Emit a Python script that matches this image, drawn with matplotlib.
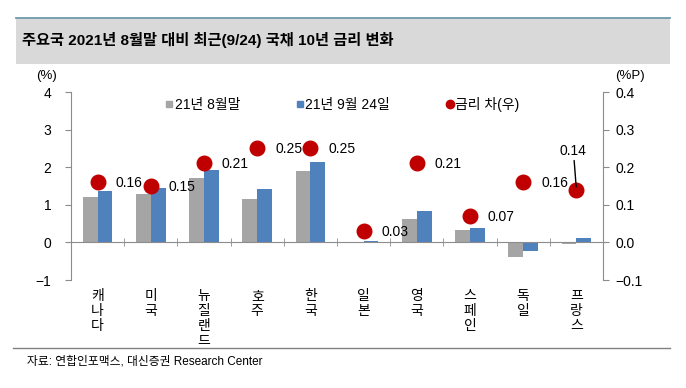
import matplotlib

matplotlib.use("Agg")
import matplotlib.pyplot as plt
from matplotlib.lines import Line2D
from matplotlib.patches import Rectangle
import numpy as np

plt.rcParams["font.family"] = ["Liberation Sans", "Noto Sans CJK KR", "DejaVu Sans"]

# data
countries = ["캐나다", "미국", "뉴질랜드", "호주", "한국", "일본", "영국", "스페인", "독일", "프랑스"]
aug_end = [1.21, 1.30, 1.71, 1.16, 1.90, 0.02, 0.62, 0.32, -0.38, -0.03]
sep_24 = [1.37, 1.45, 1.92, 1.41, 2.15, 0.05, 0.83, 0.39, -0.22, 0.11]
diff = [0.16, 0.15, 0.21, 0.25, 0.25, 0.03, 0.21, 0.07, 0.16, 0.14]
left_ticks = [-1, 0, 1, 2, 3, 4]
right_ticks = [-0.1, 0.0, 0.1, 0.2, 0.3, 0.4]

GRAY = "#A5A5A5"
BLUE = "#4F81BD"
RED = "#C00000"
AXC = "#8C8C8C"

W, H = 686, 388
fig = plt.figure(figsize=(W / 100, H / 100), dpi=100)


def fx(px):
    return px / W


def fy(py):
    return 1 - py / H


# title band
fig.patches.append(Rectangle((fx(16), fy(64)), fx(654), 46 / H, transform=fig.transFigure,
                             facecolor="#D9D9D9", edgecolor="none", zorder=0))
fig.add_artist(Line2D([fx(16), fx(670)], [fy(18), fy(18)], color="#6F9AAA", lw=1.3))
fig.text(fx(22), fy(40), "주요국 2021년 8월말 대비 최근(9/24) 국채 10년 금리 변화",
         fontsize=11, fontweight="bold", va="center", ha="left")

# footer
fig.add_artist(Line2D([fx(13), fx(670)], [fy(348), fy(348)], color="#808080", lw=1.0))
fig.text(fx(27), fy(362), "자료: 연합인포맥스, 대신증권 Research Center", fontsize=8.5,
         va="center", ha="left")

ax = fig.add_axes([fx(71), fy(280), fx(603 - 71), (280 - 92) / H])
x = np.arange(len(countries))
bw = 0.28
ax.bar(x - bw / 2, aug_end, bw, color=GRAY, zorder=2)
ax.bar(x + bw / 2, sep_24, bw, color=BLUE, zorder=2)
ax.set_xlim(-0.5, len(countries) - 0.5)
ax.set_ylim(-1, 4)
ax.set_yticks(left_ticks)
ax.set_yticklabels([f"{t:d}".replace("-", "\u2212") for t in left_ticks])

ax.spines["top"].set_visible(False)
ax.spines["right"].set_visible(False)
ax.spines["bottom"].set_position(("data", 0))
for s in ("left", "bottom"):
    ax.spines[s].set_color(AXC)
ax.set_xticks([])
ax.set_xticks(np.arange(len(countries) + 1) - 0.5, minor=True)
ax.tick_params(axis="x", which="minor", direction="inout", length=6, color=AXC,
               labelbottom=False)
ax.tick_params(axis="y", direction="out", length=4, color=AXC, labelsize=10, pad=10)

for xi, name in zip(x, countries):
    ax.annotate("\n".join(name), (xi, -1), xytext=(0, -9), textcoords="offset pixels",
                ha="center", va="top", fontsize=10, linespacing=1.08)

ax2 = ax.twinx()
ax2.set_ylim(-0.1, 0.4)
ax2.set_yticks(right_ticks)
ax2.set_yticklabels([f"{t:.1f}".replace("-", "\u2212") for t in right_ticks])
for s in ("top", "bottom", "left"):
    ax2.spines[s].set_visible(False)
ax2.spines["right"].set_color(AXC)
ax2.tick_params(axis="y", direction="out", length=4, color=AXC, labelsize=10, pad=5)
ax2.scatter(x, diff, s=110, color=RED, zorder=3)

for xi, d in zip(x[:-1], diff[:-1]):
    ax2.annotate(f"{d:.2f}", (xi, d), xytext=(18, -1), textcoords="offset pixels",
                 ha="left", va="center", fontsize=10)
ax2.annotate(f"{diff[-1]:.2f}", (x[-1], diff[-1]), xytext=(-3, 39), textcoords="offset pixels",
             ha="center", va="center", fontsize=10,
             arrowprops=dict(arrowstyle="-", color="black", lw=1.0, shrinkA=0, shrinkB=2))

fig.text(fx(47), fy(76), "(%)", fontsize=9.5, ha="center", va="center")
fig.text(fx(630), fy(76), "(%P)", fontsize=9.5, ha="center", va="center")

handles = [
    Line2D([], [], marker="s", ls="none", color=GRAY, markersize=5),
    Line2D([], [], marker="s", ls="none", color=BLUE, markersize=5),
    Line2D([], [], marker="o", ls="none", color=RED, markersize=6),
]
ax2.legend(handles, ["21년 8월말", "21년 9월 24일", "금리 차(우)"], loc="center",
           bbox_to_anchor=(0.51, 0.936), ncol=3, frameon=False, fontsize=10,
           handlelength=0.6, handletextpad=0.1, columnspacing=4.0)

fig.savefig("out.png", dpi=100)
